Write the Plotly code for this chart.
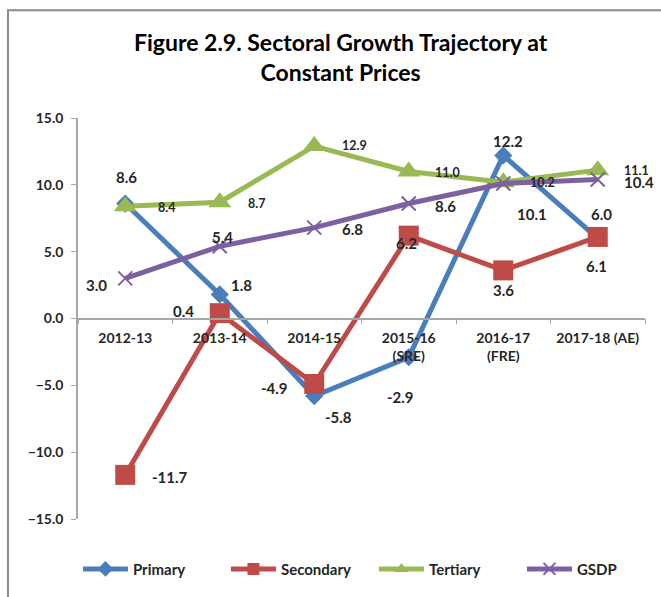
import plotly.graph_objects as go

categories = ["2012-13", "2013-14", "2014-15", "2015-16<br>(SRE)", "2016-17<br>(FRE)", "2017-18 (AE)"]
primary = [8.6, 1.8, -5.8, -2.9, 12.2, 6.0]
secondary = [-11.7, 0.4, -4.9, 6.2, 3.6, 6.1]
tertiary = [8.4, 8.7, 12.9, 11.0, 10.2, 11.1]
gsdp = [3.0, 5.4, 6.8, 8.6, 10.1, 10.4]
y_ticks = [-15, -10, -5, 0, 5, 10, 15]

FONT = "Lato"
TXT = "#262626"

series = [
    ("Primary", primary, "#4A7EBB", "diamond", 14,
     [(1, 27), (22, 9), (24, -21), (-8, -40), (5, 14), (4, 24)], 15),
    ("Secondary", secondary, "#BE4B48", "square", 20,
     [(45, -2), (-36, 2), (-40, -4), (-2, -7), (0, -20), (-1, -29)], 15),
    ("Tertiary", tertiary, "#98B954", "triangle-up", 20,
     [(41, -1), (37, -1), (40, 1), (39, -1), (39, 0), (39, 0)], 12.5),
    ("GSDP", gsdp, "#7D60A0", "x-thin", 14,
     [(-29, -7), (3, 9), (38, -1), (37, -2), (29, -30), (41, -3)], 15),
]

fig = go.Figure()
annotations = []
for name, vals, color, sym, msize, offs, fsize in series:
    marker = dict(symbol=sym, size=msize, color=color)
    if sym == "x-thin":
        marker["line"] = dict(width=2, color=color)
    fig.add_trace(go.Scatter(
        x=categories, y=vals, name=name, mode="lines+markers",
        line=dict(color=color, width=5), marker=marker,
    ))
    for c, v, (dx, dy) in zip(categories, vals, offs):
        annotations.append(dict(
            x=c, y=v, xref="x", yref="y", text=f"{v:.1f}", showarrow=False,
            xshift=dx, yshift=dy, xanchor="center", yanchor="middle",
            font=dict(family=FONT, size=fsize, color=TXT, weight="bold"),
        ))

annotations.append(dict(
    x=0.464, y=1.152, xref="paper", yref="paper",
    text="Figure 2.9. Sectoral Growth Trajectory at<br>Constant Prices",
    showarrow=False, xanchor="center", yanchor="middle",
    font=dict(family=FONT, size=23, color="#000000", weight="bold"),
))

fig.update_layout(
    width=661, height=597,
    margin=dict(l=78, r=16, t=118, b=78, autoexpand=False),
    paper_bgcolor="white", plot_bgcolor="white",
    font=dict(family=FONT, color=TXT),
    annotations=annotations,
    showlegend=True,
    legend=dict(orientation="h", x=-0.0001, y=-0.125, xanchor="left", yanchor="middle",
                font=dict(family=FONT, size=15, color=TXT, weight="bold"),
                itemsizing="constant", tracegroupgap=0,
                itemwidth=45, entrywidth=88, entrywidthmode="pixels"),
    shapes=[dict(type="rect", xref="paper", yref="paper",
                 x0=-0.1235, x1=1.3, y0=-0.6, y1=1.269,
                 line=dict(color="#8c8c8c", width=2), layer="below")],
    xaxis=dict(
        type="category", anchor="free", position=0.5,
        showline=True, linecolor="#a6a6a6", linewidth=1.5,
        ticks="outside", tickson="boundaries", ticklen=5, tickcolor="#a6a6a6",
        ticklabelstandoff=7,
        showgrid=False, zeroline=False,
        tickfont=dict(family=FONT, size=14, color=TXT, weight="bold"),
        range=[-0.5, 5.5],
    ),
    yaxis=dict(
        range=[-15, 15], tickvals=y_ticks, tickformat=".1f",
        showline=True, linecolor="#a6a6a6", linewidth=1.5,
        ticks="outside", ticklen=5, tickcolor="#a6a6a6",
        ticklabelstandoff=5,
        showgrid=False, zeroline=False,
        tickfont=dict(family=FONT, size=14, color=TXT, weight="bold"),
    ),
)

fig.write_html(
    "out.html",
    config={"displayModeBar": False},
    post_script="document.body.style.margin='0';document.body.style.overflow='hidden';",
)
